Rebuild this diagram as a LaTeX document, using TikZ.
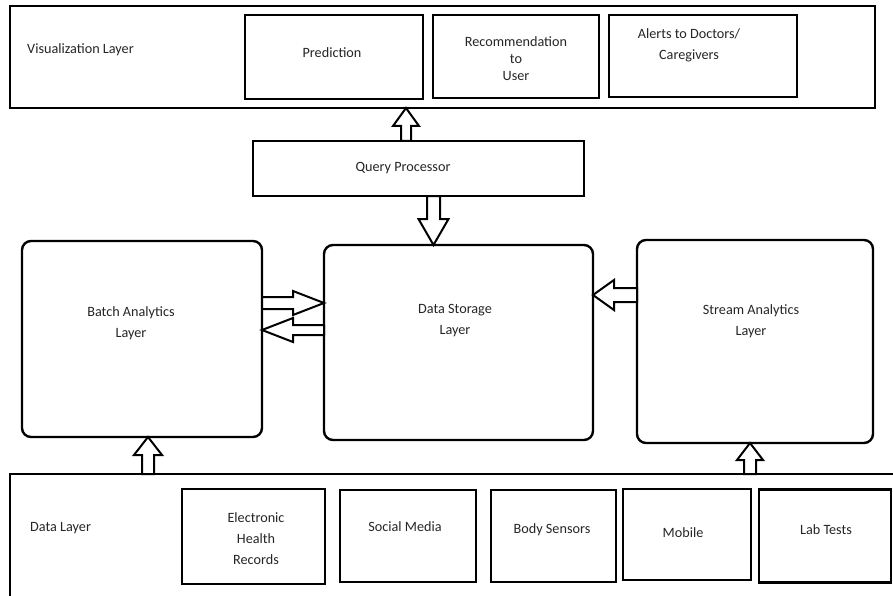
\documentclass[tikz,border=0pt]{standalone}
\usepackage{fontspec}
\setmainfont{Carlito}
\usetikzlibrary{calc}
\tikzset{
  box/.style={draw, line width=2.6pt, inner sep=0pt, outer sep=0pt},
  rbox/.style={draw, line width=2.4pt, rounded corners=9pt, inner sep=0pt, outer sep=0pt},
  txt/.style={font=\fontsize{14.2}{20}\selectfont, align=center, inner sep=0pt, text=black!85},
  barrow/.style={draw, line width=2pt, fill=white, line join=miter},
}
% #1 tail, #2 tip, #3 shaft half width, #4 head half width, #5 head length
\newcommand\blockarrow[5]{%
  \coordinate (ba-hb) at ($(#2)!#5!(#1)$);
  \draw[barrow] ($(#1)!#3!90:(#2)$) -- ($(ba-hb)!#3!90:(#2)$) -- ($(ba-hb)!#4!90:(#2)$) -- (#2)
    -- ($(ba-hb)!#4!-90:(#2)$) -- ($(ba-hb)!#3!-90:(#2)$) -- ($(#1)!#3!-90:(#2)$) -- cycle;
}
\begin{document}
\begin{tikzpicture}[x=1pt, y=-1pt]
\useasboundingbox (0,0) rectangle (893,596);
\fill[white] (0,0) rectangle (893,596);
\clip (0,0) rectangle (893,596);

% Visualization layer
\node[box, minimum width=865pt, minimum height=102pt] (viz) at (442.5,57) {};
\node[box, minimum width=178pt, minimum height=84pt] (pred) at (334,57) {};
\node[box, minimum width=166pt, minimum height=83pt] (rec) at (516,56.5) {};
\node[box, minimum width=188pt, minimum height=82pt] (alert) at (703,56) {};
\node[txt, anchor=west] (tviz) at (27,50) {Visualization Layer};
\node[txt] (tpred) at (332,53) {Prediction};
\node[txt] (trec) at (516,59) {Recommendation\\[-3pt]to\\[-3pt]User};
\node[txt] (talert) at (689,45.5) {Alerts to Doctors/\\[1pt]Caregivers};

% Query processor
\node[box, minimum width=331pt, minimum height=55pt] (qp) at (418.5,168.5) {};
\node[txt] (tqp) at (403,168) {Query Processor};

% Middle layers
\node[rbox, minimum width=240pt, minimum height=196pt] (batch) at (142,339) {};
\node[rbox, minimum width=269pt, minimum height=195pt] (store) at (458.5,342.5) {};
\node[rbox, minimum width=236pt, minimum height=203pt] (stream) at (755,341.5) {};
\node[txt] (tbatch) at (131,323) {Batch Analytics\\[1pt]Layer};
\node[txt] (tstore) at (455,321) {Data Storage\\[1pt]Layer};
\node[txt] (tstream) at (751,321) {Stream Analytics\\[1pt]Layer};

% Data layer (runs past the right and bottom edges)
\node[box, minimum width=900pt, minimum height=136pt] (data) at (460,542) {};
\node[box, minimum width=143pt, minimum height=95pt] (ehr) at (253.5,536.5) {};
\node[box, minimum width=136pt, minimum height=92pt] (sm) at (408,536) {};
\node[box, minimum width=125pt, minimum height=92pt] (bs) at (553.5,536) {};
\node[box, minimum width=128pt, minimum height=91pt] (mob) at (687,534.5) {};
\node[box, minimum width=132pt, minimum height=93pt] (lab) at (825,536) {};
\node[txt, anchor=west] (tdata) at (30,528) {Data Layer};
\node[txt] (tehr) at (256,538.5) {Electronic\\[1pt]Health\\[1pt]Records};
\node[txt] (tsm) at (405,527) {Social Media};
\node[txt] (tbs) at (552,530) {Body Sensors};
\node[txt] (tmob) at (683,533) {Mobile};
\node[txt] (tlab) at (826,530) {Lab Tests};

% Block arrows
\blockarrow{406,0 |- qp.north}{406,0 |- viz.south}{5pt}{13pt}{18pt}
\blockarrow{433.5,0 |- qp.south}{433.5,0 |- store.north}{6.5pt}{15pt}{26pt}
\blockarrow{batch.east |- 0,303}{store.west |- 0,303}{6pt}{12pt}{31pt}
\blockarrow{store.west |- 0,330}{batch.east |- 0,330}{5pt}{12pt}{31pt}
\blockarrow{stream.west |- 0,295}{store.east |- 0,295}{7pt}{15pt}{21pt}
\blockarrow{148,0 |- data.north}{148,0 |- batch.south}{6pt}{14pt}{18pt}
\blockarrow{750,0 |- data.north}{750,0 |- stream.south}{6pt}{13pt}{17pt}
\end{tikzpicture}
\end{document}
